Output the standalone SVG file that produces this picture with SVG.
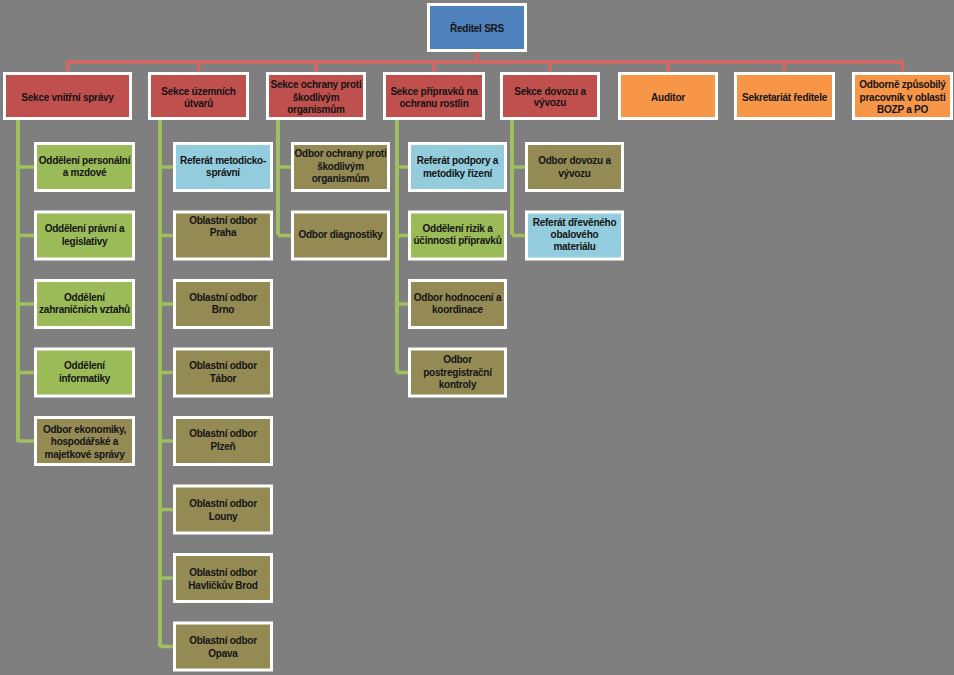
<svg xmlns="http://www.w3.org/2000/svg" width="954" height="675" viewBox="0 0 954 675">
<style>
.bg{fill:#7F7F7F}
rect.b{stroke:#FFFFFF;stroke-width:3}
.blue{fill:#4F81BD}
.red{fill:#C0504D}
.orange{fill:#F79646}
.green{fill:#9BBB59}
.olive{fill:#948A54}
.lb{fill:#93CDDD}
text{font-family:"Liberation Sans",Arial,sans-serif;font-weight:bold;font-size:10px;letter-spacing:-0.25px;fill:#141414;text-anchor:middle}
.rl{stroke:#CD6866;stroke-width:4;fill:none}
.gl{stroke:#9FC05C;stroke-width:4;fill:none}
.gs{stroke:#9FC05C;stroke-width:3.5;fill:none}
</style>
<rect class="bg" x="0" y="0" width="954" height="675"/>
<g id="connectors">
<path class="rl" d="M477 52V62M67.5 62H902.5M67.5 61V72M198.5 61V72M316 61V72M434 61V72M550 61V72M668 61V72M784.5 61V72M902.5 61V72"/>
<path class="gl" d="M18 120V442M160 120V647M278 120V235M397 120V372.5M512 120V235"/>
<path class="gs" d="M18 167H35M18 235.5H35M18 304H35M18 372.5H35M18 441H35M160 167H174M160 235.5H174M160 304H174M160 372.5H174M160 441H174M160 509.5H174M160 578H174M160 646.5H174M278 167H292M278 235.5H292M397 167H409M397 235.5H409M397 304H409M397 372.5H409M512 167H526M512 235.5H526"/>
</g>
<g id="director"><rect class="b blue" x="428.5" y="4.5" width="97" height="46"/><text x="477" y="32">Ředitel  SRS</text></g>
<g id="s1"><rect class="b red" x="4.5" y="73.5" width="126" height="45"/><text x="67.5" y="101">Sekce vnitřní správy</text></g>
<g id="s2"><rect class="b red" x="149.5" y="73.5" width="98" height="45"/><text x="198.5" y="95">Sekce územních<tspan x="198.5" y="106.5">útvarů</tspan></text></g>
<g id="s3"><rect class="b red" x="267.5" y="73.5" width="97" height="45"/><text x="316" y="88">Sekce ochrany proti<tspan x="316" y="100.5">škodlivým</tspan><tspan x="316" y="113">organismům</tspan></text></g>
<g id="s4"><rect class="b red" x="384.5" y="73.5" width="99" height="45"/><text x="434" y="95">Sekce přípravků na<tspan x="434" y="106.5">ochranu rostlin</tspan></text></g>
<g id="s5"><rect class="b red" x="501.5" y="73.5" width="97" height="45"/><text x="550" y="94.5">Sekce dovozu a<tspan x="550" y="106">vývozu</tspan></text></g>
<g id="auditor"><rect class="b orange" x="619.5" y="73.5" width="97" height="45"/><text x="668" y="101">Auditor</text></g>
<g id="sekretariat"><rect class="b orange" x="735.5" y="73.5" width="98" height="45"/><text x="784.5" y="101">Sekretariát ředitele</text></g>
<g id="bozp"><rect class="b orange" x="853.5" y="73.5" width="98" height="45"/><text x="902.5" y="88">Odborně způsobilý<tspan x="902.5" y="100.5">pracovník v oblasti</tspan><tspan x="902.5" y="112.5">BOZP a PO</tspan></text></g>

<g id="c1n1"><rect class="b green" x="35.5" y="143.5" width="98" height="47"/><text x="84.5" y="163.5">Oddělení personální<tspan x="84.5" y="176">a mzdové</tspan></text></g>
<g id="c1n2"><rect class="b green" x="35.5" y="212" width="98" height="47"/><text x="84.5" y="232">Oddělení právní a<tspan x="84.5" y="244.5">legislativy</tspan></text></g>
<g id="c1n3"><rect class="b green" x="35.5" y="280.5" width="98" height="47"/><text x="84.5" y="300.5">Oddělení<tspan x="84.5" y="313">zahraničních  vztahů</tspan></text></g>
<g id="c1n4"><rect class="b green" x="35.5" y="349" width="98" height="47"/><text x="84.5" y="369">Oddělení<tspan x="84.5" y="381.5">informatiky</tspan></text></g>
<g id="c1n5"><rect class="b olive" x="35.5" y="417.5" width="98" height="47"/><text x="84.5" y="432.5">Odbor ekonomiky,<tspan x="84.5" y="445">hospodářské a</tspan><tspan x="84.5" y="457.5">majetkové správy</tspan></text></g>

<g id="c2n1"><rect class="b lb" x="174.5" y="143.5" width="97" height="47"/><text x="223" y="163.5">Referát metodicko-<tspan x="223" y="176">správní</tspan></text></g>
<g id="c2n2"><rect class="b olive" x="174.5" y="212" width="97" height="47"/><text x="223" y="223.5">Oblastní odbor<tspan x="223" y="236">Praha</tspan></text></g>
<g id="c2n3"><rect class="b olive" x="174.5" y="280.5" width="97" height="47"/><text x="223" y="301">Oblastní odbor<tspan x="223" y="313">Brno</tspan></text></g>
<g id="c2n4"><rect class="b olive" x="174.5" y="349" width="97" height="47"/><text x="223" y="369">Oblastní odbor<tspan x="223" y="381.5">Tábor</tspan></text></g>
<g id="c2n5"><rect class="b olive" x="174.5" y="417.5" width="97" height="47"/><text x="223" y="437">Oblastní odbor<tspan x="223" y="449.5">Plzeň</tspan></text></g>
<g id="c2n6"><rect class="b olive" x="174.5" y="486" width="97" height="47"/><text x="223" y="507">Oblastní odbor<tspan x="223" y="519.5">Louny</tspan></text></g>
<g id="c2n7"><rect class="b olive" x="174.5" y="554.5" width="97" height="47"/><text x="223" y="576">Oblastní odbor<tspan x="223" y="588.5">Havlíčkův Brod</tspan></text></g>
<g id="c2n8"><rect class="b olive" x="174.5" y="623" width="97" height="47"/><text x="223" y="644">Oblastní odbor<tspan x="223" y="656.5">Opava</tspan></text></g>

<g id="c3n1"><rect class="b olive" x="292.5" y="143.5" width="96" height="47"/><text x="340.5" y="157">Odbor ochrany proti<tspan x="340.5" y="169.5">škodlivým</tspan><tspan x="340.5" y="182">organismům</tspan></text></g>
<g id="c3n2"><rect class="b olive" x="292.5" y="212" width="96" height="47"/><text x="340.5" y="238">Odbor diagnostiky</text></g>

<g id="c4n1"><rect class="b lb" x="409.5" y="143.5" width="96" height="47"/><text x="457.5" y="164">Referát podpory a<tspan x="457.5" y="176.5">metodiky řízení</tspan></text></g>
<g id="c4n2"><rect class="b green" x="409.5" y="212" width="96" height="47"/><text x="457.5" y="232">Oddělení rizik a<tspan x="457.5" y="244">účinnosti přípravků</tspan></text></g>
<g id="c4n3"><rect class="b olive" x="409.5" y="280.5" width="96" height="47"/><text x="457.5" y="301">Odbor hodnocení a<tspan x="457.5" y="313">koordinace</tspan></text></g>
<g id="c4n4"><rect class="b olive" x="409.5" y="349" width="96" height="47"/><text x="457.5" y="363">Odbor<tspan x="457.5" y="375.5">postregistrační</tspan><tspan x="457.5" y="388">kontroly</tspan></text></g>

<g id="c5n1"><rect class="b olive" x="526.5" y="143.5" width="96" height="47"/><text x="574.5" y="164">Odbor  dovozu a<tspan x="574.5" y="176.5">vývozu</tspan></text></g>
<g id="c5n2"><rect class="b lb" x="526.5" y="212" width="96" height="47"/><text x="574.5" y="226">Referát dřevěného<tspan x="574.5" y="238">obalového</tspan><tspan x="574.5" y="250">materiálu</tspan></text></g>
</svg>
